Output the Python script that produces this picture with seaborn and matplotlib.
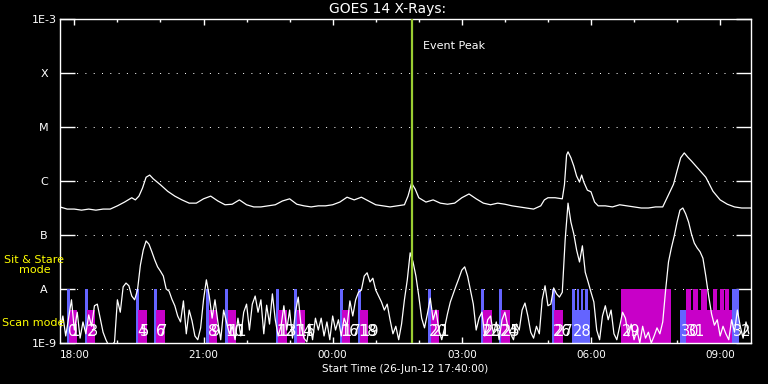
import numpy as np
import pandas as pd
import matplotlib
matplotlib.use("Agg")
import matplotlib.pyplot as plt
import matplotlib.dates as mdates
from matplotlib.ticker import FixedLocator, NullLocator
import seaborn as sns

# ---------------- data ----------------
start_time = pd.Timestamp("2012-06-26 17:40:00")
end_offset_min = 963          # right edge of time axis (minutes after start)
event_peak_min = 490.5        # Event Peak (~01:50)

# GOES long channel (1-8 A), minutes after start / log10 flux
long_minutes = [0, 10, 20, 30, 40, 50, 60, 70, 80, 90, 100, 105, 110, 115, 120, 125, 130,
                140, 150, 160, 170, 180, 190, 200, 210, 220, 230, 240, 250, 260, 270, 280,
                290, 300, 310, 320, 330, 340, 350, 360, 370, 380, 390, 400, 410, 420, 430,
                440, 450, 460, 470, 480, 485, 490, 495, 500, 510, 520, 530, 540, 550, 560,
                570, 580, 590, 600, 610, 620, 630, 640, 650, 660, 670, 675, 680, 690, 700,
                703, 706, 708, 712, 716, 720, 724, 727, 730, 735, 740, 745, 750, 760, 770,
                780, 790, 800, 810, 820, 830, 840, 850, 855, 860, 865, 870, 875, 880, 890,
                900, 910, 920, 930, 940, 950, 963]
long_log_flux = [-6.48, -6.52, -6.52, -6.54, -6.52, -6.54, -6.52, -6.52, -6.46, -6.39, -6.31,
                 -6.35, -6.28, -6.13, -5.93, -5.89, -5.96,
                 -6.07, -6.19, -6.28, -6.35, -6.41, -6.41, -6.33, -6.28, -6.37, -6.44, -6.43,
                 -6.35, -6.44, -6.48, -6.48,
                 -6.46, -6.44, -6.37, -6.33, -6.43, -6.46, -6.48, -6.46, -6.46, -6.44, -6.39,
                 -6.30, -6.35, -6.30, -6.37,
                 -6.44, -6.46, -6.48, -6.46, -6.44, -6.28, -6.04, -6.15, -6.31, -6.39, -6.35,
                 -6.41, -6.43, -6.41, -6.31,
                 -6.24, -6.33, -6.41, -6.44, -6.41, -6.43, -6.46, -6.48, -6.50, -6.52, -6.46,
                 -6.35, -6.31, -6.31, -6.33,
                 -6.07, -5.52, -5.46, -5.57, -5.72, -5.91, -6.02, -5.89, -6.02, -6.17, -6.20,
                 -6.39, -6.46, -6.46, -6.48,
                 -6.44, -6.46, -6.48, -6.50, -6.50, -6.48, -6.48, -6.20, -6.06, -5.81, -5.57,
                 -5.48, -5.56, -5.63, -5.78,
                 -5.93, -6.19, -6.35, -6.43, -6.48, -6.50, -6.50]

# GOES short channel (0.5-4 A), one value every 4 minutes from start, log10 flux
short_step_min = 4
short_log_flux = [
    -8.76, -8.50, -8.87, -8.54, -8.20, -8.76, -8.43, -8.91, -8.61, -8.83, -8.48, -8.69, -8.31, -8.28, -8.54,
    -8.80, -8.94, -9.05, -9.05, -8.98, -8.20, -8.43, -7.96, -7.89, -7.94, -8.13, -8.20, -8.02, -7.56, -7.28,
    -7.11, -7.17, -7.31, -7.46, -7.59, -7.67, -7.76, -8.00, -8.04, -8.19, -8.31, -8.50, -8.61, -8.22, -8.83,
    -8.39, -8.59, -8.87, -8.94, -8.72, -8.20, -7.83, -8.13, -8.54, -8.20, -8.61, -8.94, -8.39, -8.61, -8.83,
    -8.69, -8.94, -8.54, -8.87, -8.43, -8.28, -8.76, -8.28, -8.13, -8.43, -8.20, -8.83, -8.30, -8.65, -8.09,
    -8.57, -8.87, -8.69, -8.31, -8.76, -8.39, -8.91, -8.43, -8.15, -8.69, -8.91, -8.98, -8.65, -8.94, -8.54,
    -8.76, -8.54, -8.87, -8.61, -8.94, -8.50, -8.76, -8.57, -8.87, -8.54, -8.69, -8.22, -8.50, -8.20, -8.06,
    -8.02, -7.76, -7.70, -7.87, -7.80, -8.02, -8.13, -8.24, -8.39, -8.28, -8.57, -8.83, -8.69, -8.94, -8.65,
    -8.20, -7.83, -7.33, -7.50, -7.76, -8.13, -8.54, -8.72, -8.46, -8.17, -8.57, -8.39, -8.76, -8.94, -8.72,
    -8.46, -8.24, -8.09, -7.94, -7.80, -7.65, -7.59, -7.76, -8.02, -8.28, -8.76, -8.54, -8.43, -8.87, -8.57,
    -8.50, -8.83, -8.61, -8.94, -8.57, -8.43, -8.69, -8.83, -8.94, -8.65, -8.76, -8.39, -8.26, -8.50, -8.80,
    -8.91, -8.69, -8.83, -8.20, -7.94, -8.31, -8.28, -7.98, -8.09, -8.15, -8.06, -7.09, -6.41, -6.76, -6.98,
    -7.28, -7.50, -7.20, -7.69, -7.87, -8.06, -8.24, -8.76, -8.94, -8.50, -8.31, -8.57, -8.39, -8.83, -8.94,
    -8.69, -8.43, -8.54, -8.87, -8.65, -8.94, -8.76, -9.00, -8.69, -8.91, -8.80, -9.00, -8.87, -8.72, -8.83,
    -8.61, -8.02, -7.50, -7.24, -7.02, -6.76, -6.54, -6.50, -6.61, -6.76, -6.98, -7.15, -7.24, -7.31, -7.43,
    -7.76, -8.13, -8.46, -8.67, -8.57, -8.87, -8.69, -8.83, -8.94, -8.57, -8.80, -8.39, -8.69, -8.91, -8.61,
    -8.83]

# Observations (minutes after start)
obs_labels = [str(i) for i in range(33)]
obs_start_min = [10.2, 13.0, 35.3, 38.1, 106.5, 109.2, 131.6, 134.4, 204.1, 208.3, 229.3, 233.5,
                 300.4, 303.2, 325.5, 329.7, 389.7, 392.5, 414.8, 417.6, 512.5, 516.7, 586.4, 589.2,
                 611.6, 614.4, 685.5, 688.3, 713.4, 781.4, 864.1, 872.4, 936.6]
obs_end_min = [14.4, 24.1, 39.5, 49.3, 110.6, 121.8, 135.8, 146.9, 208.3, 219.4, 233.5, 244.6,
               304.6, 315.8, 329.7, 340.8, 393.9, 403.7, 419.0, 428.8, 516.7, 527.8, 590.6, 601.8,
               615.8, 627.0, 689.7, 700.9, 738.5, 851.1, 872.4, 936.6, 946.4]
obs_mode = ["stare", "scan"] * 14 + ["scan", "stare", "scan", "scan", "stare"]
obs_color = ["blue", "magenta"] * 14 + ["blue", "magenta", "blue", "magenta", "blue"]

# short sit & stare pointings inside the long scan blocks
stripe_start_min = [713.4, 720.4, 726.0, 732.2, 872.4, 882.2, 893.4, 910.1, 919.9, 927.0]
stripe_end_min = [717.6, 723.9, 729.4, 735.7, 879.4, 889.2, 901.8, 915.7, 925.5, 932.5]
stripe_color = ["blue"] * 4 + ["magenta"] * 6

level_values = [1e-9, 1e-8, 1e-7, 1e-6, 1e-5, 1e-4, 1e-3]
level_labels = ["1E-9", "A", "B", "C", "M", "X", "1E-3"]

# ---------------- styling ----------------
palette = {"blue": "#6464ff", "magenta": "#c800c8"}
mode_top = {"stare": 1e-8, "scan": 4.1e-9}
label_y = 1.65e-9

sns.set_theme(style="dark", rc={
    "figure.facecolor": "black", "axes.facecolor": "black", "axes.edgecolor": "white",
    "text.color": "white", "xtick.color": "white", "ytick.color": "white",
    "axes.labelcolor": "white", "axes.linewidth": 1.0,
})
plt.rcParams["font.family"] = ["DejaVu Sans"]

fig = plt.figure(figsize=(7.68, 3.84), dpi=100)
ax = fig.add_axes([60 / 768, 41 / 384, 691 / 768, 324 / 384])

def to_time(m):
    return start_time + pd.to_timedelta(m, unit="min")

# observation bars
for s, e, mode, col in zip(obs_start_min, obs_end_min, obs_mode, obs_color):
    t0 = to_time(s)
    ax.bar(t0, height=mode_top[mode] - 1e-9, bottom=1e-9,
           width=(e - s) / 1440.0, align="edge", color=palette[col], lw=0, zorder=2)
for s, e, col in zip(stripe_start_min, stripe_end_min, stripe_color):
    ax.bar(to_time(s), height=mode_top["stare"] - 1e-9, bottom=1e-9,
           width=(e - s) / 1440.0, align="edge", color=palette[col], lw=0, zorder=2)

# curves
long_df = pd.DataFrame({"time": to_time(np.array(long_minutes, dtype=float)),
                        "flux": 10.0 ** np.array(long_log_flux)})
short_min = np.arange(len(short_log_flux)) * short_step_min
short_df = pd.DataFrame({"time": to_time(short_min.astype(float)),
                         "flux": 10.0 ** np.array(short_log_flux)})
sns.lineplot(data=long_df, x="time", y="flux", color="white", lw=0.9, ax=ax,
             estimator=None, zorder=3)
sns.lineplot(data=short_df, x="time", y="flux", color="white", lw=0.9, ax=ax,
             estimator=None, zorder=3)

# event peak
ax.axvline(to_time(event_peak_min), color="#9acd32", lw=1.6, zorder=4)
ax.annotate("Event Peak", xy=(to_time(event_peak_min), 3.2e-4), xytext=(8, 0),
            textcoords="offset points", ha="left", va="center", fontsize=8, color="white")

# observation numbers
for s, lab in zip(obs_start_min, obs_labels):
    ax.annotate(lab, xy=(to_time(s), label_y), xytext=(0.8, 0), textcoords="offset points",
                ha="left", va="center", fontsize=10.5, color="white", zorder=5)

# axes
ax.set_yscale("log")
ax.set_ylim(1e-9, 1e-3)
ax.set_xlim(to_time(0), to_time(end_offset_min))
ax.yaxis.set_major_locator(FixedLocator(level_values))
ax.yaxis.set_minor_locator(NullLocator())
ax.set_yticklabels(level_labels)
ax.tick_params(axis="y", which="major", direction="in", length=10.8, width=1.0,
               left=True, right=True, pad=11.5, labelsize=8)
for t in ax.get_yticklabels():
    t.set_horizontalalignment("center")
ax.grid(axis="y", color="white", lw=0.72, linestyle=(0, (1, 7.3)))
ax.grid(axis="x", visible=False)

ax.xaxis.set_major_locator(mdates.HourLocator(byhour=[0, 3, 6, 9, 12, 15, 18, 21]))
ax.xaxis.set_minor_locator(mdates.HourLocator())
ax.xaxis.set_major_formatter(mdates.DateFormatter("%H:%M"))
ax.tick_params(axis="x", which="major", direction="in", length=4.3, width=1.0,
               top=True, bottom=True, pad=5, labelsize=7.5)
ax.tick_params(axis="x", which="minor", direction="in", length=2.2, width=1.0,
               top=True, bottom=True)
ax.set_xlabel("Start Time (26-Jun-12 17:40:00)", fontsize=7.5, labelpad=3)
ax.set_ylabel("")
for sp in ax.spines.values():
    sp.set_color("white")
    sp.set_linewidth(1.0)

fig.text(0.504, 1 - 9 / 384, "GOES 14 X-Rays:", ha="center", va="center", fontsize=10,
         color="white")
fig.text(34.5 / 768, 1 - 265 / 384, "Sit & Stare\nmode", ha="center", va="center",
         fontsize=8, color="yellow", linespacing=1.1)
fig.text(2 / 768, 1 - 323 / 384, "Scan mode", ha="left", va="center", fontsize=8,
         color="yellow")

fig.savefig("out.png", dpi=100, facecolor="black")
